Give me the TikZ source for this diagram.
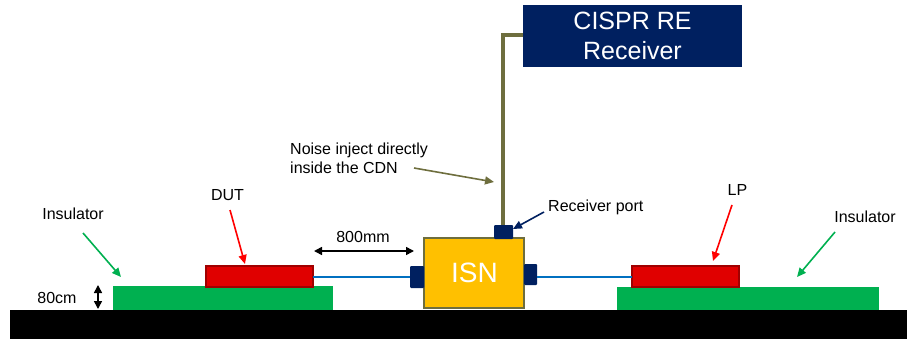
\documentclass[tikz,border=0pt]{standalone}
\usepackage{fontspec}
\setmainfont{Liberation Sans}
\usetikzlibrary{arrows.meta}
\definecolor{navy}{HTML}{002060}
\definecolor{insgreen}{HTML}{00B050}
\definecolor{devred}{HTML}{E00000}
\definecolor{devredline}{HTML}{A00000}
\definecolor{cableblue}{HTML}{0070C0}
\definecolor{isnfill}{HTML}{FFC000}
\definecolor{olive}{HTML}{6E6E3E}
\tikzset{
  block/.style={inner sep=0pt, outer sep=0pt, anchor=north west},
  insulator/.style={block, fill=insgreen},
  device/.style={block, fill=devred, draw=devredline, line width=2pt},
  port/.style={block, fill=navy, rounded corners=1pt},
  label/.style={font=\fontsize{16}{19}\selectfont, inner sep=0pt, align=left},
  pointer/.style={line width=1.6pt, -{Triangle[width=8pt,length=9pt]}},
  cable/.style={cableblue, line width=2.5pt},
  dim/.style={line width=1.6pt, {Triangle[width=8pt,length=8pt]}-{Triangle[width=8pt,length=8pt]}},
}
\begin{document}
\begin{tikzpicture}[x=1pt,y=-1pt]
\useasboundingbox (0,0) rectangle (907,339);
% ground plane
\fill[black] (10,310) rectangle (907,339);
% insulating supports
\node[insulator, minimum width=220pt, minimum height=24pt] (insL) at (113,286) {};
\node[insulator, minimum width=262pt, minimum height=23pt] (insR) at (617,287) {};
% equipment under test and load
\node[device, minimum width=107pt, minimum height=21pt] (dut) at (206,266) {};
\node[device, minimum width=107pt, minimum height=21pt] (lp) at (632,266) {};
% ISN
\node[block, fill=isnfill, draw=olive, line width=2.6pt, minimum width=100pt, minimum height=70pt] (isn) at (424,238) {};
\node[font=\fontsize{28}{32}\selectfont, text=white] (isnlbl) at (474.5,273) {ISN};
\node[port, minimum width=14pt, minimum height=22pt] (pL) at (410,266) {};
\node[port, minimum width=13pt, minimum height=21pt] (pR) at (524,264) {};
\node[port, minimum width=19pt, minimum height=14pt] (pT) at (494,225) {};
% cables
\draw[cable] (dut.east |- 0,277) -- (pL.west |- 0,277);
\draw[cable] (pR.east |- 0,277) -- (lp.west |- 0,277);
% receiver
\node[block, fill=navy, minimum width=219pt, minimum height=62pt] (rx) at (523,5) {};
\node[text=white, font=\fontsize{25}{30}\selectfont, align=center] (rxlbl) at (rx.center) {CISPR RE\\Receiver};
\coordinate (bend) at (503,35);
\draw[olive, line width=4pt] (pT.north -| bend) -- (bend) -- (rx.west |- bend);
% labels and pointers
\node[label, anchor=west] (noise) at (290,158) {Noise inject directly\\inside the CDN};
\coordinate (noiseTip) at (494,182);
\draw[pointer, olive] (414,168) -- (noiseTip);
\node[label, anchor=west] (rport) at (548,207) {Receiver port};
\draw[pointer, navy] (rport.west) ++(-4,5) -- (513,229);
\node[label] (dutlbl) at (227.5,195) {DUT};
\draw[pointer, red] (230,210) -- (245,264);
\node[label] (lplbl) at (737.5,190) {LP};
\draw[pointer, red] (732,205) -- (713,261);
\node[label] (insLlbl) at (73,214) {Insulator};
\draw[pointer, insgreen] (83,233) -- (121,277);
\node[label] (insRlbl) at (865,217) {Insulator};
\draw[pointer, insgreen] (835,232) -- (797,277);
\node[label] (dist) at (363,237) {800mm};
\draw[dim] (314,251) -- (414,251);
\node[label] (height) at (57,298) {80cm};
\draw[dim] (98,285) -- (98,309);
\end{tikzpicture}
\end{document}
